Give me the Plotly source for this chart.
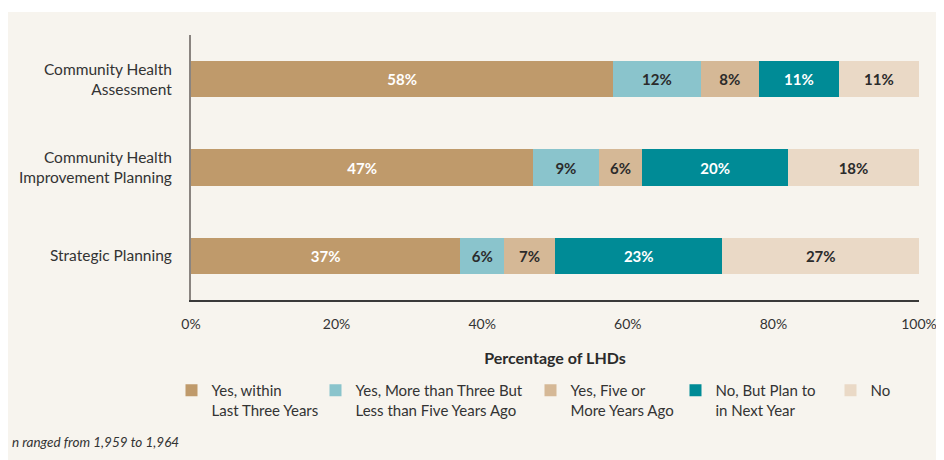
import plotly.graph_objects as go

# Dados
categorias = ['Community Health<br>Assessment',
              'Community Health<br>Improvement Planning',
              'Strategic Planning']
series = ['Yes, within<br>Last Three Years',
          'Yes, More than Three But<br>Less than Five Years Ago',
          'Yes, Five or<br>More Years Ago',
          'No, But Plan to<br>in Next Year',
          'No']
valores = [
    [58, 47, 37],
    [12, 9, 6],
    [8, 6, 7],
    [11, 20, 23],
    [11, 18, 27],
]
ticks_x = [0, 20, 40, 60, 80, 100]
ticks_x_txt = ['0%', '20%', '40%', '60%', '80%', '100%']

cores = ['#bf9a6b', '#8ac4cc', '#d5b896', '#008b96', '#ead9c6']
cores_texto = ['#ffffff', '#2b2b2b', '#2b2b2b', '#ffffff', '#2b2b2b']
larguras_legenda = [99, 170, 100, 110, 40]
fundo = '#f7f4ee'

# Área do gráfico (px na figura)
L, R, T, B = 183, 911, 27, 292
W = R - L
H = B - T

fig = go.Figure()

for nome, vals, cor, cor_txt, lw in zip(series, valores, cores, cores_texto, larguras_legenda):
    fig.add_trace(go.Bar(
        y=categorias,
        x=vals,
        name=nome,
        orientation='h',
        marker=dict(color=cor, line=dict(width=0)),
        width=0.41,
        text=[f'{v}%' for v in vals],
        texttemplate='<b>%{text}</b>',
        textposition='inside',
        insidetextanchor='middle',
        textangle=0,
        textfont=dict(color=cor_txt, size=15, family='Lato'),
        legendwidth=lw,
        hoverinfo='skip',
    ))

fig.update_layout(
    width=944,
    height=460,
    barmode='stack',
    paper_bgcolor='white',
    plot_bgcolor='rgba(0,0,0,0)',
    margin=dict(l=L, r=944 - R, t=T, b=460 - B),
    font=dict(family='Lato', size=14, color='#333333'),
    xaxis=dict(
        range=[0, 100],
        tickvals=ticks_x,
        ticktext=ticks_x_txt,
        showgrid=False,
        zeroline=False,
        showline=True,
        linecolor='#3a3a3a',
        linewidth=1.5,
        ticklabelstandoff=10,
        tickfont=dict(size=14, color='#333333'),
        title=dict(text='<b>Percentage of LHDs</b>', standoff=22,
                   font=dict(size=16, color='#2b2b2b')),
        fixedrange=True,
    ),
    yaxis=dict(
        categoryorder='array',
        categoryarray=categorias[::-1],
        range=[-0.5, 2.5],
        showgrid=False,
        zeroline=False,
        showline=True,
        linecolor='#8a8480',
        linewidth=2,
        ticklabelstandoff=14,
        tickfont=dict(size=15.5, color='#333333'),
        fixedrange=True,
    ),
    legend=dict(
        orientation='h',
        x=(163.5 - L) / W,
        xanchor='left',
        y=-74 / H,
        yanchor='top',
        traceorder='normal',
        bgcolor='rgba(0,0,0,0)',
        font=dict(family='Lato', size=15, color='#333333'),
        valign='top',
        itemclick=False,
        itemdoubleclick=False,
    ),
    showlegend=True,
)

# Painel creme de fundo
fig.add_shape(type='rect', xref='paper', yref='paper',
              x0=(-1 - L) / W, x1=(950 - L) / W,
              y0=-(470 - B) / H, y1=(B - 4) / H,
              fillcolor=fundo, line=dict(width=0), layer='below')

# Nota de rodapé
fig.add_annotation(text='<i>n ranged from 1,959 to 1,964</i>',
                   xref='paper', yref='paper',
                   x=(2 - L) / W, y=-(434 - B) / H,
                   xanchor='left', yanchor='middle', showarrow=False,
                   font=dict(size=13.5, color='#333333', family='Lato'))

fig.write_html('out.html')
